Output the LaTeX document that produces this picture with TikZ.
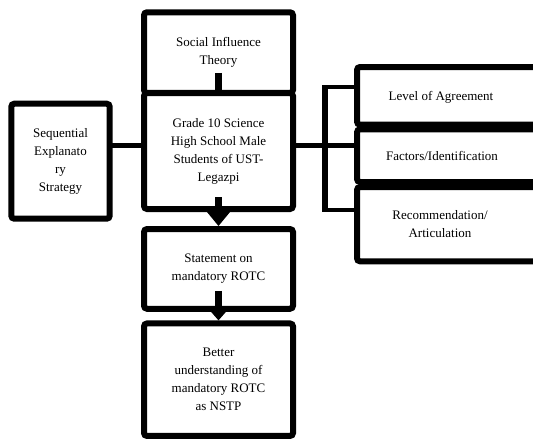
\documentclass[tikz,border=0pt]{standalone}
\usepackage{fontspec}
\setmainfont{Liberation Serif}
\usetikzlibrary{arrows.meta}
\tikzset{
  box/.style={draw, line width=6pt, rounded corners=3pt, inner sep=0pt, outer sep=0pt,
    align=center, font=\fontsize{13}{18}\selectfont},
  txt/.style={inner sep=0pt, align=center, font=\fontsize{13}{18}\selectfont},
  conn/.style={line width=5pt},
  brk/.style={line width=4pt},
  stub/.style={line width=6.5pt},
}
\begin{document}
\begin{tikzpicture}[x=1pt,y=-1pt]
\useasboundingbox (0,0) rectangle (533,439);
\clip (0,0) rectangle (533,439);
% middle column
\node[box, minimum width=149pt, minimum height=80.7pt] (soc) at (218.5,52.6) {Social Influence\\Theory};
\node[box, minimum width=149pt, minimum height=116pt] (grade) at (218.5,151) {Grade 10 Science\\High School Male\\Students of UST-\\Legazpi};
\node[box, minimum width=98.4pt, minimum height=115pt] (seq) at (60.5,161.2) {Sequential\\Explanato\\ry\\Strategy};
\node[box, minimum width=149pt, minimum height=79.7pt] (stmt) at (218.5,268.9) {Statement on\\mandatory ROTC};
\node[box, minimum width=149pt, minimum height=112.5pt] (better) at (218.5,379.7) {Better\\understanding of\\mandatory ROTC\\as NSTP};
% right column
\node[box, minimum width=188pt, minimum height=57.7pt] (lev) at (451,95.85) {};
\node[box, minimum width=188pt, minimum height=52.7pt] (fac) at (451,155.65) {};
\node[box, minimum width=188pt, minimum height=74.3pt] (rec) at (451,224.15) {};
\node[txt] (levt) at (441,97.5) {Level of Agreement};
\node[txt] (fact) at (442,156) {Factors/Identification};
\node[txt] (rect) at (440,224) {Recommendation/\\Articulation};
% connectors
\draw[conn] (seq.east |- 0,145) -- (grade.west |- 0,145);
\draw[stub] ([yshift=20pt]soc.south) -- (soc.south);
\draw[stub, -{Triangle[width=22pt,length=14pt]}] ([yshift=12pt]grade.south) -- ([yshift=3pt]stmt.north);
\draw[stub, -{Triangle[width=20pt,length=12pt]}] ([yshift=18pt]stmt.south) -- ([yshift=3pt]better.north);
\coordinate (bt) at (325,87);
\coordinate (bb) at (325,210);
\draw[conn] (grade.east |- 0,145) -- (fac.west |- 0,145);
\draw[brk] (lev.west |- bt) -- (bt);
\draw[brk] (rec.west |- bb) -- (bb);
\draw[line width=6.5pt] ([yshift=2pt]bt) -- ([yshift=-2pt]bb);
\end{tikzpicture}
\end{document}
